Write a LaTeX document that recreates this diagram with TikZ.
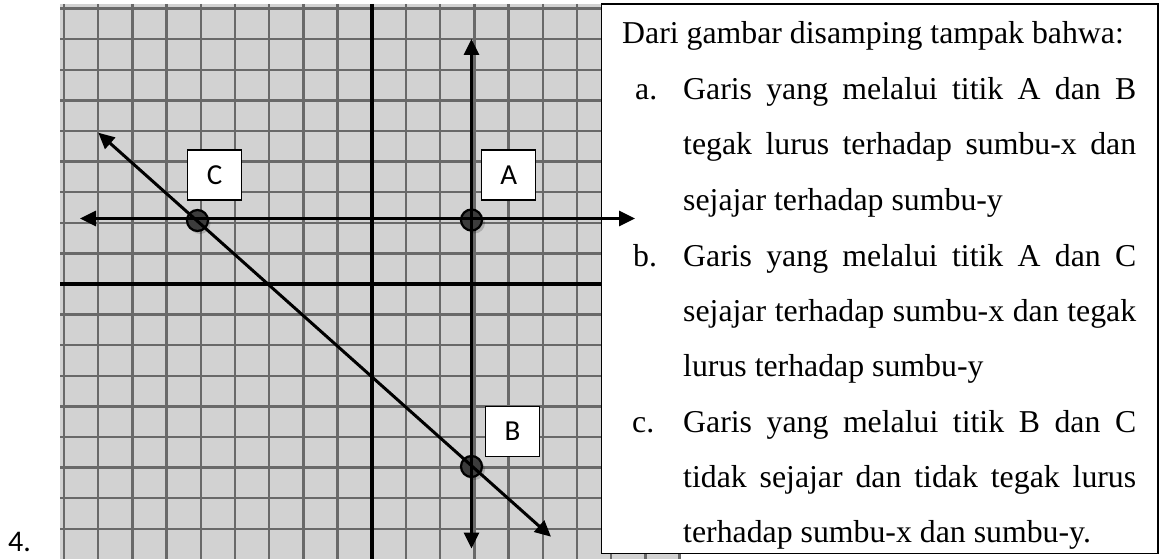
\documentclass[tikz,border=0pt]{standalone}
\usepackage{fontspec}
\setmainfont{Liberation Serif}
\newfontfamily\lblfont{Carlito}
\usetikzlibrary{arrows.meta}
\definecolor{gridbg}{RGB}{210,210,210}
\definecolor{gridln}{RGB}{105,105,105}
\definecolor{dotfill}{RGB}{60,60,60}
\tikzset{
  gridline/.style={draw=gridln, line width=2.4pt},
  axisline/.style={draw=black, line width=4pt},
  pline/.style={draw=black, line width=3pt,
    {Triangle[length=16pt,width=15pt]}-{Triangle[length=16pt,width=15pt]}},
  ptdot/.style={circle, draw=black, line width=2.2pt, fill=dotfill,
    minimum size=21pt, inner sep=0pt},
  ptshadow/.style={circle, fill=black, opacity=0.18, minimum size=21pt, inner sep=0pt},
  lblbox/.style={draw=black, fill=white, line width=1.5pt, minimum width=54pt,
    minimum height=50pt, inner sep=0pt, font=\lblfont\fontsize{29}{34}\selectfont},
  txt/.style={anchor=base west, inner sep=0pt, font=\fontsize{31.8}{40}\selectfont},
  tbox/.style={draw=black, fill=white, line width=1.5pt}
}
\newcommand{\jline}[1]{\makebox[453pt][s]{#1}}
\begin{document}
\begin{tikzpicture}[x=1pt,y=-1pt]
\useasboundingbox (0,0) rectangle (1165,559);
% grid background
\fill[gridbg] (60,4) rectangle (680,559);
\foreach \k in {-9,...,9} {
  \draw[gridline] ({371.7+34.2*\k},4) -- ({371.7+34.2*\k},559);
}
\foreach \k in {-9,...,8} {
  \draw[gridline] (60,{284+30.6*\k}) -- (680,{284+30.6*\k});
}
% axes
\draw[axisline] (371.7,4) -- (371.7,559);
\draw[axisline] (60,284) -- (680,284);
% text box
\draw[tbox] (601.5,4) rectangle (1158,553.5);
% points
\node[ptshadow] at (200,223.5) {};
\node[ptshadow] at (474.5,223) {};
\node[ptshadow] at (474.5,469.5) {};
\node[ptdot] (C) at (197.5,220.5) {};
\node[ptdot] (A) at (471.5,220) {};
\node[ptdot] (B) at (471.5,466.5) {};
% arrow end points
\coordinate (vtop) at (471.5,39);
\coordinate (vbot) at (471.5,548.5);
\coordinate (hleft) at (80,218.5);
\coordinate (hright) at (635,218.5);
\coordinate (dul) at (98.3,132.7);
\coordinate (dlr) at (551,536.7);
% lines
\draw[pline] (dul) -- (dlr);
\draw[pline] (vtop) -- (vbot);
\draw[pline] (hleft) -- (hright);
% labels
\node[lblbox] (lC) at (214.7,175) {C};
\node[lblbox] (lA) at (508.7,175) {A};
\node[lblbox] (lB) at (512.5,431.3) {B};
% number
\node[anchor=base west, inner sep=0pt, font=\lblfont\fontsize{30}{36}\selectfont] (num) at (8,551) {4.};
% text
\node[txt] (t1) at (622,44) {Dari gambar disamping tampak bahwa:};
\node[txt] (la) at (635,100) {a.};
\node[txt] (t2) at (683,100) {\jline{Garis yang melalui titik A dan B}};
\node[txt] (t3) at (683,155) {\jline{tegak lurus terhadap sumbu-x dan}};
\node[txt] (t4) at (683,210) {sejajar terhadap sumbu-y};
\node[txt] (lb) at (633,266) {b.};
\node[txt] (t5) at (683,266) {\jline{Garis yang melalui titik A dan C}};
\node[txt] (t6) at (683,321) {\jline{sejajar terhadap sumbu-x dan tegak}};
\node[txt] (t7) at (683,376) {lurus terhadap sumbu-y};
\node[txt] (lc) at (632,432) {c.};
\node[txt] (t8) at (683,432) {\jline{Garis yang melalui titik B dan C}};
\node[txt] (t9) at (683,487) {\jline{tidak sejajar dan tidak tegak lurus}};
\node[txt] (t10) at (683,542.5) {terhadap sumbu-x dan sumbu-y.};
\end{tikzpicture}
\end{document}
